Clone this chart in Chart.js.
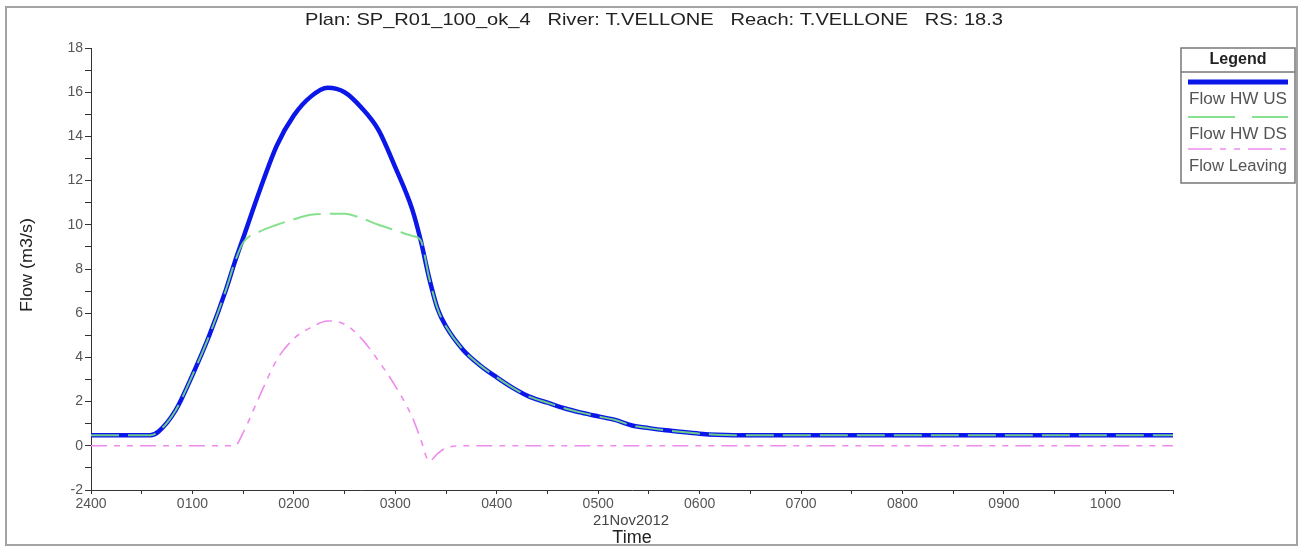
<!DOCTYPE html>
<html>
<head>
<meta charset="utf-8">
<script src="https://cdn.jsdelivr.net/npm/chart.js@4.4.0/dist/chart.umd.min.js"></script>
<style>
  html, body { margin: 0; padding: 0; background: #fff; }
  #wrap { width: 1302px; height: 546px; position: relative; }
</style>
</head>
<body>
<div id="wrap"><canvas id="hydro"></canvas></div>
<script>
// minutes after 2400 on 21Nov2012
const times = [0, 10, 20, 30, 35, 40, 50, 60, 70, 80, 85, 90, 100, 110, 120, 130, 140, 150, 160, 170, 180, 190, 195, 200, 205, 210,
  220, 230, 240, 250, 260, 270, 280, 290, 300, 310, 320, 330, 340, 350, 360, 370, 380, 400, 450, 500, 550, 600, 640];

const flowUS = [0.48, 0.48, 0.48, 0.48, 0.48, 0.65, 1.6, 3.2, 5.0, 7.1, 8.3, 9.4, 11.6, 13.6, 14.95, 15.8, 16.2, 16.0, 15.3, 14.3, 12.6, 10.7, 9.3, 7.6, 6.2, 5.4,
  4.35, 3.65, 3.1, 2.6, 2.2, 1.95, 1.7, 1.5, 1.33, 1.17, 0.92, 0.8, 0.7, 0.62, 0.55, 0.5, 0.48, 0.48, 0.48, 0.48, 0.48, 0.48, 0.48];

const flowDS = [0.48, 0.48, 0.48, 0.48, 0.48, 0.65, 1.6, 3.2, 5.0, 7.1, 8.3, 9.2, 9.7, 10.0, 10.25, 10.45, 10.5, 10.5, 10.3, 10.0, 9.75, 9.5, 9.3, 7.6, 6.2, 5.4,
  4.35, 3.65, 3.1, 2.6, 2.2, 1.95, 1.7, 1.5, 1.33, 1.17, 0.92, 0.8, 0.7, 0.62, 0.55, 0.5, 0.48, 0.48, 0.48, 0.48, 0.48, 0.48, 0.48];

const flowLeaving = [0, 0, 0, 0, 0, 0, 0, 0, 0, 0, 0, 0.6, 2.3, 3.9, 4.85, 5.35, 5.65, 5.5, 4.85, 3.85, 2.7, 1.3, 0.3, -0.7, -0.35, -0.1,
  0, 0, 0, 0, 0, 0, 0, 0, 0, 0, 0, 0, 0, 0, 0, 0, 0, 0, 0, 0, 0, 0, 0];

const seriesNames = ["Flow HW US", "Flow HW DS", "Flow Leaving"];
const plotTitle = "Plan: SP_R01_100_ok_4   River: T.VELLONE   Reach: T.VELLONE   RS: 18.3";
const dateLabel = "21Nov2012";

const FONT = "'Liberation Sans', Arial, sans-serif";

function pontos(valori) {
  return times.map((t, i) => ({ x: t, y: valori[i] }));
}

function hourLabel(v) {
  if (v % 60 !== 0) return "";
  const h = v / 60;
  if (h === 0) return "2400";
  return String(h).padStart(2, "0") + "00";
}

// text centred on (cx, cy) and stretched to a given width
function wideText(ctx, text, cx, cy, width) {
  const w = ctx.measureText(text).width;
  ctx.save();
  ctx.translate(cx, cy);
  ctx.scale(width / w, 1);
  ctx.fillText(text, 0, 0);
  ctx.restore();
}

// frame, title, axis titles and the boxed legend
const extras = {
  id: "extras",
  afterDraw(chart) {
    const ctx = chart.ctx;
    const ds = chart.data.datasets;
    ctx.save();

    ctx.strokeStyle = "#a4a4a4";
    ctx.lineWidth = 2;
    ctx.strokeRect(6, 7, 1291, 538);

    ctx.fillStyle = "#222";
    ctx.textAlign = "center";
    ctx.textBaseline = "middle";
    ctx.font = "17px " + FONT;
    wideText(ctx, plotTitle, 654, 20, 698);

    ctx.font = "15px " + FONT;
    ctx.fillStyle = "#444";
    wideText(ctx, dateLabel, 631, 521, 76);
    ctx.font = "18px " + FONT;
    ctx.fillStyle = "#222";
    ctx.fillText("Time", 632, 538);

    ctx.save();
    ctx.translate(27, 265);
    ctx.rotate(-Math.PI / 2);
    ctx.font = "17px " + FONT;
    wideText(ctx, "Flow (m3/s)", 0, 0, 94);
    ctx.restore();

    // legend box
    const lx = 1181, ly = 48, lw = 114, lh = 135;
    ctx.fillStyle = "#fff";
    ctx.fillRect(lx, ly, lw, lh);
    ctx.strokeStyle = "#777";
    ctx.lineWidth = 1.5;
    ctx.strokeRect(lx, ly, lw, lh);
    ctx.beginPath();
    ctx.moveTo(lx, ly + 24);
    ctx.lineTo(lx + lw, ly + 24);
    ctx.stroke();

    ctx.fillStyle = "#222";
    ctx.font = "bold 16px " + FONT;
    ctx.fillText("Legend", lx + lw / 2, ly + 12);

    const rows = [82, 117, 149];
    const legendDash = [[], [47, 17], [24, 8, 6, 8, 6, 8]];
    ds.forEach((d, i) => {
      const y = rows[i];
      ctx.strokeStyle = d.borderColor;
      ctx.lineWidth = i === 0 ? 5 : d.borderWidth;
      ctx.setLineDash(legendDash[i]);
      ctx.beginPath();
      ctx.moveTo(lx + 7, y);
      ctx.lineTo(lx + lw - 7, y);
      ctx.stroke();
      ctx.setLineDash([]);
      ctx.fillStyle = "#555";
      ctx.font = "16px " + FONT;
      wideText(ctx, d.label, lx + lw / 2, y + 18, 98);
    });

    ctx.restore();
  }
};

new Chart(document.getElementById("hydro"), {
  type: "line",
  data: {
    datasets: [
      {
        label: seriesNames[0],
        data: pontos(flowUS),
        borderColor: "#0b16e8",
        borderWidth: 4.5,
        order: 2
      },
      {
        label: seriesNames[1],
        data: pontos(flowDS),
        borderColor: "rgba(120, 222, 130, 0.9)",
        borderWidth: 2,
        borderDash: [28, 9],
        order: 1
      },
      {
        label: seriesNames[2],
        data: pontos(flowLeaving),
        borderColor: "#ee8cee",
        borderWidth: 1.6,
        borderDash: [16, 7, 6, 7, 6, 7],
        order: 0
      }
    ]
  },
  options: {
    responsive: true,
    maintainAspectRatio: false,
    animation: false,
    layout: { padding: { left: 0, right: 129, top: 48, bottom: 0 } },
    elements: {
      point: { radius: 0 },
      line: { cubicInterpolationMode: "monotone", fill: false }
    },
    plugins: {
      legend: { display: false },
      tooltip: { enabled: false },
      title: { display: false }
    },
    scales: {
      x: {
        type: "linear",
        min: 0,
        max: 640,
        afterFit(scale) { scale.height = 56; },
        border: { display: true, color: "#333", width: 1 },
        grid: { drawOnChartArea: false, drawTicks: true, tickLength: 4, tickColor: "#333" },
        ticks: {
          stepSize: 30,
          autoSkip: false,
          maxRotation: 0,
          padding: 2,
          color: "#555",
          font: { size: 14, family: FONT },
          callback: hourLabel
        }
      },
      y: {
        min: -2,
        max: 18,
        afterFit(scale) { scale.width = 91; },
        border: { display: true, color: "#333", width: 1 },
        grid: { drawOnChartArea: false, drawTicks: true, tickLength: 6, tickColor: "#333" },
        ticks: {
          stepSize: 1,
          autoSkip: false,
          padding: 2,
          color: "#555",
          font: { size: 14, family: FONT },
          callback: v => (v % 2 === 0 ? String(v) : "")
        }
      }
    }
  },
  plugins: [extras]
});
</script>
</body>
</html>
